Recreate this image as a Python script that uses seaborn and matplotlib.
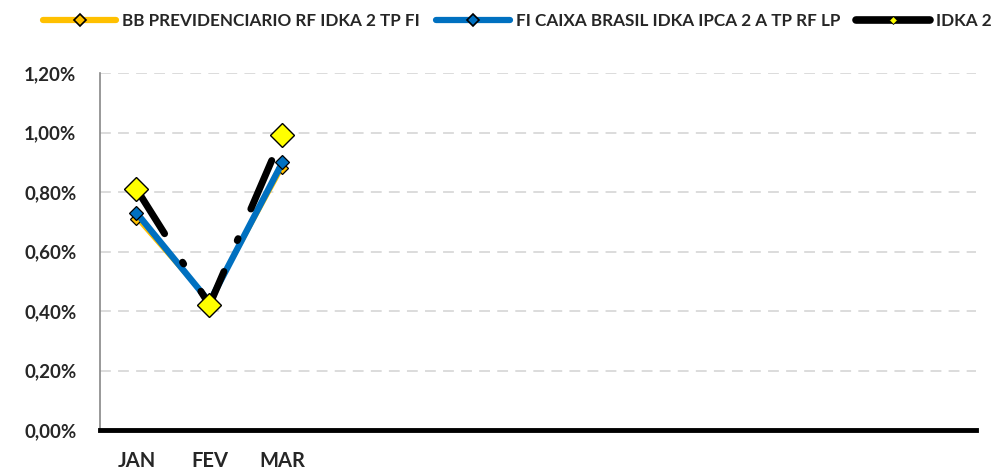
import matplotlib
matplotlib.use("Agg")
import matplotlib.pyplot as plt
from matplotlib.lines import Line2D
from matplotlib.ticker import FuncFormatter, FixedLocator
import seaborn as sns
import pandas as pd

# ---- data ----
categories = ["JAN", "FEV", "MAR", "", "", "", "", "", "", "", "", ""]
months_with_data = ["JAN", "FEV", "MAR"]
bb_values = [0.71, 0.43, 0.88]
caixa_values = [0.73, 0.43, 0.90]
idka_values = [0.81, 0.42, 0.99]
series_names = ["BB PREVIDENCIARIO RF IDKA 2 TP FI",
                "FI CAIXA BRASIL IDKA IPCA 2 A TP RF LP",
                "IDKA 2"]
yticks = [0.0, 0.2, 0.4, 0.6, 0.8, 1.0, 1.2]

sns.set_theme(style="white")
plt.rcParams["font.family"] = ["Lato", "DejaVu Sans"]
plt.rcParams["font.weight"] = "bold"

fig = plt.figure(figsize=(10.04, 4.72), dpi=100)
ax = fig.add_axes([100 / 1004, 1 - 430 / 472, 876 / 1004, 357 / 472])

x_pos = list(range(len(months_with_data)))
df = pd.DataFrame({
    "x": x_pos * 3,
    "value": bb_values + caixa_values + idka_values,
    "serie": [series_names[0]] * 3 + [series_names[1]] * 3 + [series_names[2]] * 3,
})

# BB (yellow/orange, thin)
sns.lineplot(data=df[df.serie == series_names[0]], x="x", y="value", ax=ax,
             color="#FFC000", lw=2.2, marker="D", markersize=6,
             markerfacecolor="#FFC000", markeredgecolor="black", markeredgewidth=0.9,
             legend=False, zorder=3)
# CAIXA (blue thick)
sns.lineplot(data=df[df.serie == series_names[1]], x="x", y="value", ax=ax,
             color="#0070C0", lw=4.6, marker="D", markersize=7,
             markerfacecolor="#0070C0", markeredgecolor="black", markeredgewidth=0.9,
             legend=False, zorder=4)
# IDKA 2 (black long-dash-dot)
sns.lineplot(data=df[df.serie == series_names[2]], x="x", y="value", ax=ax,
             color="black", lw=5, marker="D", markersize=12,
             markerfacecolor="#FFFF00", markeredgecolor="black", markeredgewidth=1.0,
             legend=False, zorder=5)
blk = ax.lines[-1]
blk.set_dashes((7.6, 4.85, 0.3, 4.65))
blk.set_dash_capstyle("round")

# ---- axes styling ----
ax.set_xlim(-0.5, len(categories) - 0.5)
ax.set_ylim(0, 1.2)
ax.set_xlabel("")
ax.set_ylabel("")

ax.xaxis.set_major_locator(FixedLocator(list(range(len(categories)))))
ax.set_xticklabels(categories, fontsize=14.5, fontweight="bold")
ax.xaxis.set_minor_locator(FixedLocator([i - 0.5 for i in range(len(categories) + 1)]))
ax.tick_params(axis="x", which="major", length=0, pad=15)
ax.tick_params(axis="x", which="minor", length=5, width=3.5, color="black", direction="out")

ax.set_yticks(yticks)
ax.yaxis.set_major_formatter(FuncFormatter(lambda v, p: f"{v:.2f}%".replace(".", ",")))
ax.tick_params(axis="y", length=6, width=1.2, color="#888888", pad=11, labelsize=13.5)
for lab in ax.get_yticklabels():
    lab.set_fontweight("bold")

for v in yticks[1:]:
    ax.axhline(v, color="#D9D9D9", lw=1.3, ls=(0, (6, 4)), zorder=0)

for s in ["top", "right"]:
    ax.spines[s].set_visible(False)
ax.spines["left"].set_color("#888888")
ax.spines["left"].set_linewidth(1.2)
ax.spines["bottom"].set_color("black")
ax.spines["bottom"].set_linewidth(3.5)
ax.spines["bottom"].set_zorder(6)

# ---- legend ----
handles = [
    Line2D([0], [0], color="#FFC000", lw=4.5, solid_capstyle="round", marker="D", markersize=6,
           markerfacecolor="#FFC000", markeredgecolor="black", markeredgewidth=1.2),
    Line2D([0], [0], color="#0070C0", lw=4.5, solid_capstyle="round", marker="D", markersize=6,
           markerfacecolor="#0070C0", markeredgecolor="black", markeredgewidth=1.2),
    Line2D([0], [0], color="black", lw=5.5, solid_capstyle="round", marker="D", markersize=4.5,
           markerfacecolor="#FFFF00", markeredgecolor="black", markeredgewidth=0.6),
]
fig.legend(handles, series_names, loc="center", bbox_to_anchor=(0.515, 1 - 21 / 472),
           ncol=3, frameon=False, prop={"weight": "bold", "size": 12.3},
           handlelength=4.3, handletextpad=0.35, columnspacing=0.95, borderaxespad=0)

fig.savefig("out.png", dpi=100)
